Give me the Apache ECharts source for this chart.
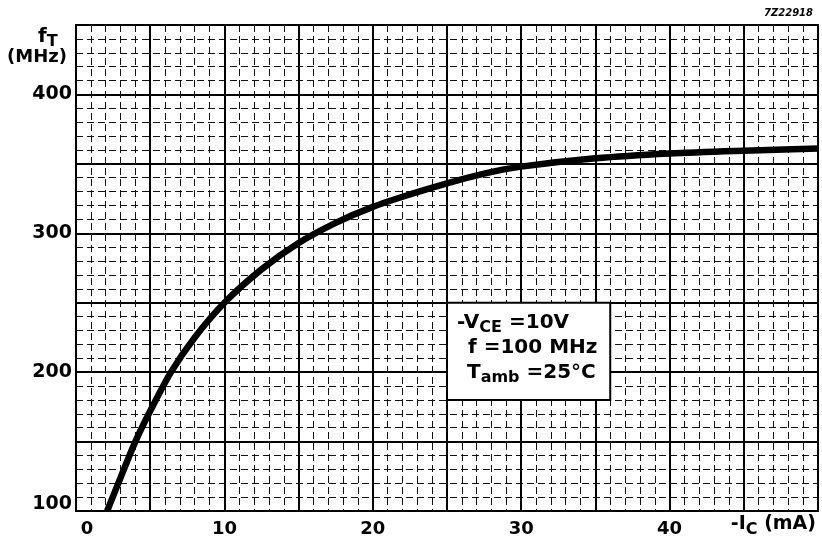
<!DOCTYPE html>
<html>
<head>
<meta charset="utf-8">
<script src="https://cdn.jsdelivr.net/npm/echarts@6/dist/echarts.min.js"></script>
<style>html,body{margin:0;padding:0;background:#fff;}#c{width:822px;height:542px;}</style>
</head>
<body>
<div id="c"></div>
<script>
// Collector current -I_C (mA)
const currentMA = [2.1, 3, 4, 5, 6.4, 8, 10, 12.5, 15, 17.5, 20, 22.5, 25, 27.5, 30, 35, 40, 45, 50];
// Transition frequency f_T (MHz)
const fTMHz = [100, 124, 150, 172, 200, 225, 250, 274, 293, 307.5, 319, 328, 336, 343, 348, 354, 357.5, 359.5, 361];
const xTickLabels = [0, 10, 20, 30, 40];
const yTickLabels = [100, 200, 300, 400];
// annotation box corners (data coords)
const boxFrom = [25, 250];
const boxTo = [36, 180];

const FONT = 'DejaVu Sans';
const chart = echarts.init(document.getElementById('c'), null, {renderer: 'canvas'});

const option = {
  backgroundColor: '#fff',
  animation: false,
  grid: {left: 76, top: 25, width: 742, height: 486, show: true, borderColor: '#000', borderWidth: 2, backgroundColor: 'transparent'},
  xAxis: {
    type: 'value', min: 0, max: 50, interval: 5, minorSplitNumber: 5,
    axisLine: {show: false}, axisTick: {show: false},
    axisLabel: {
      margin: 9, color: '#000', fontFamily: FONT, fontWeight: 'bold', fontSize: 18,
      formatter: v => v === 0 ? '{z|0}' : (xTickLabels.indexOf(v) >= 0 ? String(v) : ''),
      rich: {z: {fontFamily: FONT, fontWeight: 'bold', fontSize: 18, color: '#000', padding: [0, 0, 0, 22]}}
    },
    splitLine: {show: true, lineStyle: {color: '#000', width: 2}},
    minorTick: {show: false},
    minorSplitLine: {show: true, lineStyle: {color: '#111', width: 1, type: [7, 4]}}
  },
  yAxis: {
    type: 'value', min: 100, max: 450, interval: 50, minorSplitNumber: 5,
    axisLine: {show: false}, axisTick: {show: false},
    axisLabel: {
      margin: 4, color: '#000', fontFamily: FONT, fontWeight: 'bold', fontSize: 19,
      formatter: v => v === 100 ? '{lo|100}' : (yTickLabels.indexOf(v) >= 0 ? String(v) : ''),
      rich: {lo: {fontFamily: FONT, fontWeight: 'bold', fontSize: 19, color: '#000', padding: [0, 0, 14, 0]}}
    },
    splitLine: {show: true, lineStyle: {color: '#000', width: 2}},
    minorTick: {show: false},
    minorSplitLine: {show: true, lineStyle: {color: '#111', width: 1, type: [7, 4]}}
  },
  series: [{
    type: 'line',
    data: currentMA.map((x, i) => [x, fTMHz[i]]),
    smooth: 0.3,
    showSymbol: false,
    lineStyle: {color: '#000', width: 6.5},
    z: 5,
    markArea: {
      silent: true,
      itemStyle: {color: '#fff', borderColor: '#000', borderWidth: 2},
      data: [[{coord: boxFrom}, {coord: boxTo}]]
    }
  }]
};
chart.setOption(option);

const p0 = chart.convertToPixel({gridIndex: 0}, boxFrom);
const bx = p0[0], by = p0[1];
const txt = {fontFamily: FONT, fontWeight: 'bold', fontSize: 20, color: '#000'};
const sub = {fontFamily: FONT, fontWeight: 'bold', fontSize: 16, color: '#000', padding: [10, 0, 0, 0]};

chart.setOption({
  graphic: [
    {type: 'text', z: 100, left: 38, top: 27, style: {
      text: '{a|f}{s|T}', rich: {a: txt, s: sub}
    }},
    {type: 'text', z: 100, left: 7, top: 48, style: {text: '(MHz)', font: 'bold 18px "DejaVu Sans"', fill: '#000'}},
    {type: 'text', z: 100, right: 6, top: 515, style: {
      text: '{a|-I}{s|C}{a| (mA)}', rich: {a: {fontFamily: FONT, fontWeight: 'bold', fontSize: 19, color: '#000'}, s: sub}
    }},
    {type: 'text', z: 100, right: 9, top: 8, style: {text: '7Z22918', font: 'italic bold 10px "DejaVu Sans"', fill: '#000'}},
    {type: 'text', z: 100, x: bx + 10, y: by + 7, style: {
      text: '{a|-V}{s|CE}{a| =10V}', rich: {a: txt, s: sub}
    }},
    {type: 'text', z: 100, x: bx + 21, y: by + 35, style: {
      text: '{a|f =100 MHz}', rich: {a: txt}
    }},
    {type: 'text', z: 100, x: bx + 20, y: by + 57, style: {
      text: '{a|T}{s|amb}{a| =25°C}', rich: {a: txt, s: sub}
    }}
  ]
});
</script>
</body>
</html>
